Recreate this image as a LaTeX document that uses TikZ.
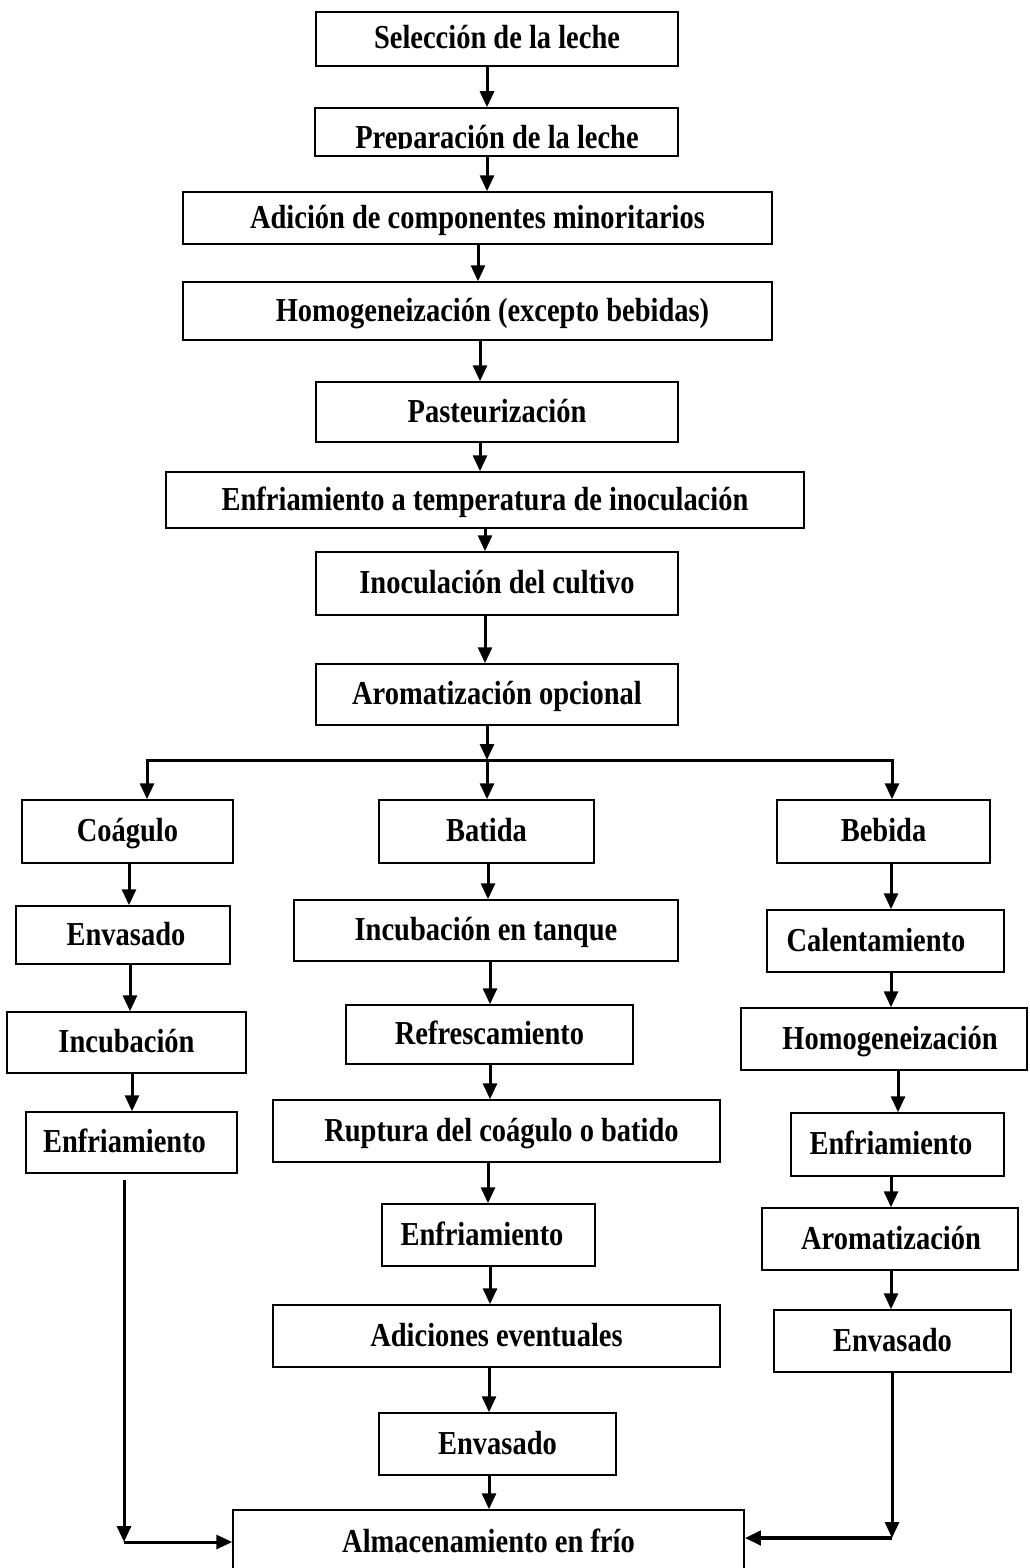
\documentclass[tikz,border=0pt]{standalone}
\usepackage{fontspec}
\setmainfont{Liberation Serif}[FakeStretch=0.85]
\usetikzlibrary{arrows.meta}

\tikzset{
    stepbox/.style = {draw, line width = 1.5pt, inner sep = 0pt},
    steptext/.style = {font = \fontsize{33.5}{40}\selectfont\bfseries, text height = 26pt, text depth = 6pt, inner sep = 0pt},
    conn/.style = {line width = 3pt, line cap = rect},
    arr/.style = {line width = 3pt, -{Triangle[length = 16pt, width = 14pt]}},
}

\begin{document}
\begin{tikzpicture}[x = 1pt, y = -1pt]
    \useasboundingbox (0, 0) rectangle (1029, 1568);
    \clip (0, 0) rectangle (1029, 1568);

    % boxes: name / centre x / centre y / width / height / text shift / text
    \foreach \nm/\cx/\cy/\w/\h/\dx/\txt in {
        sel/497/39/362/54/0/{Selección de la leche},
        adic/477.5/218/589/52/0/{Adición de componentes minoritarios},
        homo/477.5/311/589/58/15/{Homogeneización (excepto bebidas)},
        past/497/412/362/60/0/{Pasteurización},
        enfr/485/500/638/56/0/{Enfriamiento a temperatura de inoculación},
        inoc/497/583.5/362/63/0/{Inoculación del cultivo},
        arom/497/694.5/362/61/0/{Aromatización opcional},
        coag/127.5/831.5/211/63/0/{Coágulo},
        bati/486.5/831.5/215/63/0/{Batida},
        bebi/883.5/831.5/213/63/0/{Bebida},
        env1/123/935/214/58/3/{Envasado},
        inc1/126.5/1042.5/239/61/0/{Incubación},
        enf1/131.5/1142.5/211/61/-7/{Enfriamiento},
        tanq/486/930.5/384/61/0/{Incubación en tanque},
        refr/489.5/1034.5/287/59/0/{Refrescamiento},
        rupt/496.5/1131/447/62/5/{Ruptura del coágulo o batido},
        enf2/488.5/1235/213/62/-6.5/{Enfriamiento},
        adi/496.5/1336/447/62/0/{Adiciones eventuales},
        env2/497.5/1444/237/62/0/{Envasado},
        alm/488.5/1542/511/64/0/{Almacenamiento en frío},
        cal/885.5/941/237/62/-9.5/{Calentamiento},
        hom2/884/1039/286/62/6/{Homogeneización},
        enf3/897.5/1144.5/213/63/-6.5/{Enfriamiento},
        aro2/890/1239/256/62/1/{Aromatización},
        env3/892.5/1341/237/62/0/{Envasado}}{
        \node[stepbox, minimum width = \w pt, minimum height = \h pt,
              label = {[steptext, xshift = \dx pt]center:\txt}] (\nm) at (\cx, \cy) {};
    }

    % the second box prints its text cut off at the baseline
    \node[stepbox, minimum width = 363pt, minimum height = 48pt] (prep) at (496.5, 132) {};
    \begin{scope}
        \clip (prep.north west) rectangle (prep.east |- 0, 148);
        \node[steptext, anchor = base] (preptxt) at (497, 149) {Preparación de la leche};
    \end{scope}

    % straight steps
    \foreach \a/\b/\x in {sel/prep/487, prep/adic/487, adic/homo/478, homo/past/480,
                          past/enfr/480, enfr/inoc/485, inoc/arom/485,
                          coag/env1/129, env1/inc1/130, inc1/enf1/132,
                          bati/tanq/488, tanq/refr/490, refr/rupt/490, rupt/enf2/488,
                          enf2/adi/490, adi/env2/489, env2/alm/489,
                          bebi/cal/891, cal/hom2/891, hom2/enf3/898, enf3/aro2/891, aro2/env3/891}{
        \draw[arr] (\a.south -| \x, 0) -- (\b.north -| \x, 0);
    }

    % split into three products
    \coordinate (split) at (487, 760);
    \coordinate (splitL) at (147, 760);
    \coordinate (splitR) at (892, 760);
    \draw[arr] (arom.south -| split) -- (split);
    \draw[conn] (splitL) -- (splitR);
    \foreach \c/\b in {splitL/coag, split/bati, splitR/bebi}{
        \draw[arr] (\c) -- (\c |- \b.north);
    }

    % back to cold storage
    \coordinate (retL) at (124, 1180);
    \coordinate (cornL) at (124, 1542);
    \coordinate (cornR) at (892, 1538);
    \draw[arr] (retL) -- (cornL);
    \draw[arr] (cornL) -- (cornL -| alm.west);
    \draw[arr] (env3.south -| cornR) -- (cornR);
    \draw[arr, line width = 4pt] (cornR) -- (cornR -| alm.east);
\end{tikzpicture}
\end{document}
